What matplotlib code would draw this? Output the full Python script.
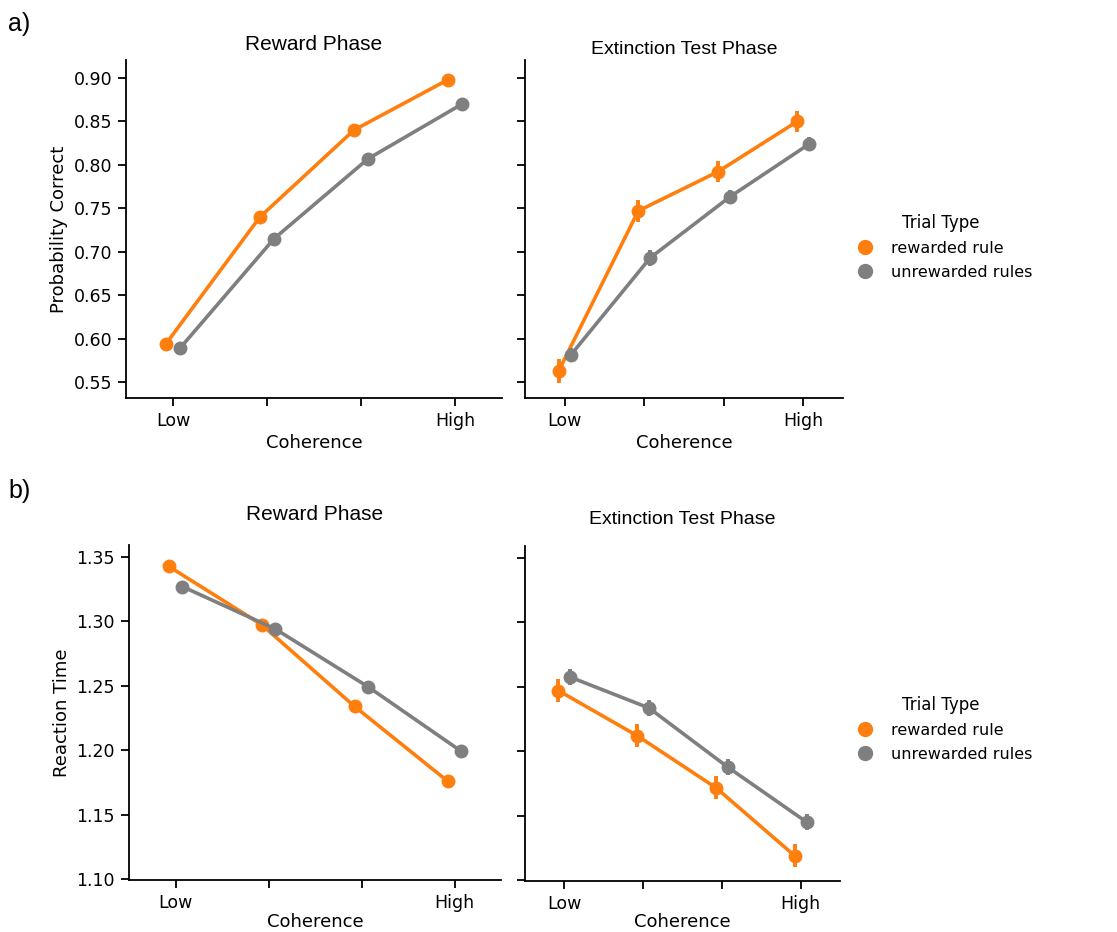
import numpy as np
import matplotlib
matplotlib.use("Agg")
import matplotlib.pyplot as plt
from matplotlib.lines import Line2D

coherence = ["Low", "", "", "High"]
hue_names = ["rewarded rule", "unrewarded rules"]
colors = ["#ff7f0e", "#7f7f7f"]

# a) probability correct
acc_reward_rew = [0.594, 0.740, 0.840, 0.898]
acc_reward_unrew = [0.589, 0.715, 0.807, 0.870]
acc_reward_rew_err = [0.006, 0.004, 0.004, 0.003]
acc_reward_unrew_err = [0.003, 0.003, 0.003, 0.003]

acc_ext_rew = [0.563, 0.747, 0.792, 0.850]
acc_ext_unrew = [0.581, 0.693, 0.763, 0.824]
acc_ext_rew_err = [0.014, 0.013, 0.012, 0.012]
acc_ext_unrew_err = [0.008, 0.009, 0.008, 0.008]

# b) reaction time
rt_reward_rew = [1.3428, 1.2975, 1.234, 1.176]
rt_reward_unrew = [1.327, 1.294, 1.249, 1.199]
rt_reward_rew_err = [0.003, 0.003, 0.003, 0.003]
rt_reward_unrew_err = [0.002, 0.002, 0.002, 0.002]

rt_ext_rew = [1.247, 1.212, 1.1716, 1.1188]
rt_ext_unrew = [1.2575, 1.2335, 1.1876, 1.145]
rt_ext_rew_err = [0.009, 0.009, 0.009, 0.009]
rt_ext_unrew_err = [0.006, 0.006, 0.006, 0.006]

plt.rcParams['font.family'] = 'DejaVu Sans'
title_font = 'Liberation Sans'

fig = plt.figure(figsize=(11.17, 9.32), dpi=100)
W, H = 1117, 932


def add_ax(x0, x1, y0, y1):
    return fig.add_axes([x0 / W, 1 - y1 / H, (x1 - x0) / W, (y1 - y0) / H])


def point_panel(ax, series, errs, ylim, yticks, title, title_size, title_pad, show_y,
                ylabel=None, xlabelpad=3):
    x = np.arange(len(coherence))
    offsets = [-0.075, 0.075]
    for i, (vals, err) in enumerate(zip(series, errs)):
        xs = x + offsets[i]
        ax.errorbar(xs, vals, yerr=err, color=colors[i], lw=2.6, elinewidth=2.8,
                    marker='o', markersize=9, capsize=0, zorder=3 + i)
    ax.set_xlim(-0.5, 3.5)
    ax.set_ylim(*ylim)
    ax.set_xticks(x)
    ax.set_xticklabels(coherence, fontsize=12.5)
    ax.set_yticks(yticks)
    if show_y:
        ax.set_yticklabels([f"{t:.2f}" for t in yticks], fontsize=12.5)
    else:
        ax.set_yticklabels([])
    ax.set_xlabel("Coherence", fontsize=13, labelpad=xlabelpad)
    if ylabel:
        ax.set_ylabel(ylabel, fontsize=13)
    ax.set_title(title, fontsize=title_size, family=title_font, pad=title_pad)
    for s in ['top', 'right']:
        ax.spines[s].set_visible(False)
    for s in ['left', 'bottom']:
        ax.spines[s].set_linewidth(1.3)
    ax.tick_params(length=6, width=1.3, pad=4)


acc_ticks = [0.55, 0.60, 0.65, 0.70, 0.75, 0.80, 0.85, 0.90]
rt_ticks = [1.10, 1.15, 1.20, 1.25, 1.30, 1.35]

ax1 = add_ax(126, 502, 60, 398)
point_panel(ax1, [acc_reward_rew, acc_reward_unrew], [acc_reward_rew_err, acc_reward_unrew_err],
            (0.5316, 0.9207), acc_ticks, "Reward Phase", 15, 7, True, "Probability Correct")
ax2 = add_ax(525, 843, 60, 398)
point_panel(ax2, [acc_ext_rew, acc_ext_unrew], [acc_ext_rew_err, acc_ext_unrew_err],
            (0.5316, 0.9207), acc_ticks, "Extinction Test Phase", 14, 4, False)

ax3 = add_ax(129, 501, 545, 880)
point_panel(ax3, [rt_reward_rew, rt_reward_unrew], [rt_reward_rew_err, rt_reward_unrew_err],
            (1.0992, 1.3593), rt_ticks, "Reward Phase", 15, 18, True, "Reaction Time",
            xlabelpad=1)
ax4 = add_ax(525, 840, 546, 881)
point_panel(ax4, [rt_ext_rew, rt_ext_unrew], [rt_ext_rew_err, rt_ext_unrew_err],
            (1.0992, 1.3593), rt_ticks, "Extinction Test Phase", 14, 16, False,
            xlabelpad=0)

handles = [Line2D([], [], ls='none', marker='o', markersize=10, color=c) for c in colors]
for ycenter in [247, 729]:
    fig.legend(handles, hue_names, title="Trial Type", frameon=False,
               loc='center left', bbox_to_anchor=(835 / W, 1 - ycenter / H),
               fontsize=11.5, title_fontsize=12, handletextpad=0.6, labelspacing=0.55)

fig.text(8 / W, 1 - 24 / H, "a)", fontsize=18, family=title_font, va='center')
fig.text(8 / W, 1 - 491 / H, "b)", fontsize=18, family=title_font, va='center')

fig.savefig("out.png", dpi=100)
